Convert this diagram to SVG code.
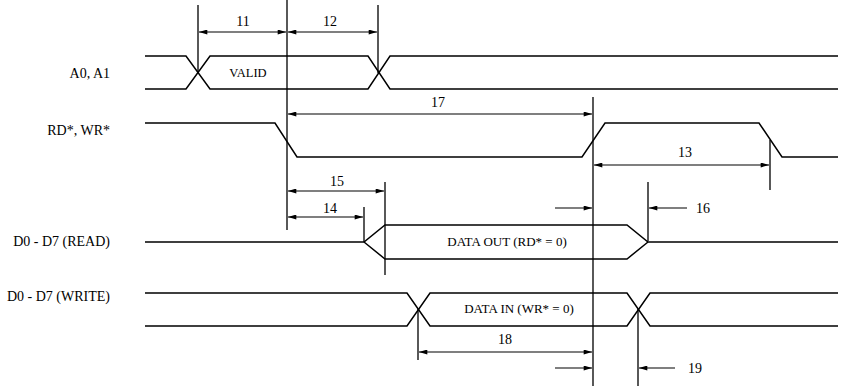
<svg xmlns="http://www.w3.org/2000/svg" width="841" height="386" viewBox="0 0 841 386">
<defs>
<marker id="ah" viewBox="0 0 10 6" refX="10" refY="3" markerWidth="9" markerHeight="5" markerUnits="userSpaceOnUse" orient="auto-start-reverse">
<path d="M0,0 L10,3 L0,6 Z" fill="#000"/>
</marker>
<style>
.sig{fill:none;stroke:#000;stroke-width:1.5;stroke-linejoin:miter}
.ext{fill:none;stroke:#000;stroke-width:1.3}
.dim{fill:none;stroke:#000;stroke-width:1.2;marker-start:url(#ah);marker-end:url(#ah)}
.one{fill:none;stroke:#000;stroke-width:1.2;marker-end:url(#ah)}
text{font-family:"Liberation Serif","Times New Roman",serif;font-size:13px;fill:#000}
.lbl{text-anchor:end;font-size:14px}
.mid{text-anchor:middle}
.num{text-anchor:middle;font-size:14px}
</style>
</defs>
<rect width="841" height="386" fill="#fff"/>

<g id="sig-a0a1">
<text class="lbl" x="110" y="78">A0, A1</text>
<path class="sig" d="M145,56 H186 L210,89 H368 L390,56 H838"/>
<path class="sig" d="M145,89 H186 L210,56 H368 L390,89 H838"/>
<text class="mid" x="248" y="77" style="font-size:12.5px">VALID</text>
</g>

<g id="sig-rdwr">
<text class="lbl" x="110" y="135">RD*, WR*</text>
<path class="sig" d="M145,123 H275 L297,157 H582 L605,123 H759 L782,157 H838"/>
</g>

<g id="sig-read">
<text class="lbl" x="110" y="246">D0 - D7 (READ)</text>
<path class="sig" d="M145,242 H364 L385,225 H627 L648,242 H838"/>
<path class="sig" d="M364,242 L385,259 H627 L648,242"/>
<text class="mid" x="507" y="246">DATA OUT (RD* = 0)</text>
</g>

<g id="sig-write">
<text class="lbl" x="110" y="301">D0 - D7 (WRITE)</text>
<path class="sig" d="M145,293 H407 L430,326 H627 L650,293 H838"/>
<path class="sig" d="M145,326 H407 L430,293 H627 L650,326 H838"/>
<text class="mid" x="519" y="313">DATA IN (WR* = 0)</text>
</g>

<g id="connectors">
<path class="ext" d="M198,5 V73 M287,0 V230 M378,5 V73 M593,97 V386 M770,140 V190 M385,182 V275 M364,207 V242 M648,182 V241 M418,309 V360 M638,309 V386"/>
<g id="t11"><line class="dim" x1="199" y1="32" x2="286" y2="32"/><text class="num" x="243" y="26">11</text></g>
<g id="t12"><line class="dim" x1="288" y1="32" x2="377" y2="32"/><text class="num" x="330" y="26">12</text></g>
<g id="t17"><line class="dim" x1="288" y1="114" x2="592" y2="114"/><text class="num" x="438" y="107">17</text></g>
<g id="t13"><line class="dim" x1="594" y1="165" x2="769" y2="165"/><text class="num" x="685" y="157">13</text></g>
<g id="t15"><line class="dim" x1="288" y1="191" x2="384" y2="191"/><text class="num" x="337" y="186">15</text></g>
<g id="t14"><line class="dim" x1="288" y1="217" x2="363" y2="217"/><text class="num" x="330" y="213">14</text></g>
<g id="t16"><line class="one" x1="555" y1="208" x2="592" y2="208"/><line class="one" x1="687" y1="208" x2="649" y2="208"/><text class="num" x="703" y="213">16</text></g>
<g id="t18"><line class="dim" x1="419" y1="352" x2="592" y2="352"/><text class="num" x="505" y="344">18</text></g>
<g id="t19"><line class="one" x1="555" y1="368" x2="592" y2="368"/><line class="one" x1="675" y1="368" x2="639" y2="368"/><text class="num" x="695" y="373">19</text></g>
</g>
</svg>
